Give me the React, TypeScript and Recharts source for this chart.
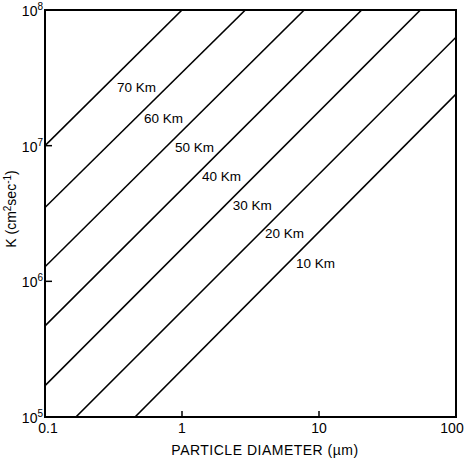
import { ComposedChart, Line, XAxis, YAxis, Scatter, ReferenceArea } from "recharts";

const FONT = "'Liberation Sans', Arial, sans-serif";

const diameterTicks = [0.1, 1, 10, 100];
const diameterLabels = ["0.1", "1", "10", "100"];
const kTicks = [1e5, 1e6, 1e7, 1e8];
const kExponents = ["5", "6", "7", "8"];

// each altitude line at its two ends (diameter µm, K cm²/s)
const line70 = [{ d: 0.1, k: 1.0e7 }, { d: 1.0, k: 1e8 }];
const line60 = [{ d: 0.1, k: 3.5e6 }, { d: 2.9, k: 1e8 }];
const line50 = [{ d: 0.1, k: 1.28e6 }, { d: 7.8, k: 1e8 }];
const line40 = [{ d: 0.1, k: 4.7e5 }, { d: 20.5, k: 1e8 }];
const line30 = [{ d: 0.1, k: 1.7e5 }, { d: 55, k: 1e8 }];
const line20 = [{ d: 0.168, k: 1e5 }, { d: 100, k: 6.3e7 }];
const line10 = [{ d: 0.454, k: 1e5 }, { d: 100, k: 2.4e7 }];

const altitudeLines = [line70, line60, line50, line40, line30, line20, line10];

// where each altitude name sits
const altitudeNames = ["70 Km", "60 Km", "50 Km", "40 Km", "30 Km", "20 Km", "10 Km"];
const nameD = [0.336, 0.528, 0.889, 1.4, 2.35, 4.04, 6.79];
const nameK = [2.71e7, 1.6e7, 9.8e6, 5.98e6, 3.66e6, 2.27e6, 1.37e6];

const nameSpots = altitudeNames.map((name, i) => ({ d: nameD[i], k: nameK[i], name }));

const XTick = (props: any) => {
  const { x, y, payload, index } = props;
  const inner = payload.value !== 0.1 && payload.value !== 100;
  const shift = index === 0 ? 3 : index === diameterTicks.length - 1 ? -4 : 0;
  return (
    <g>
      {inner && <line x1={x} x2={x} y1={y} y2={y - 6} stroke="#000" strokeWidth={1.5} />}
      <text x={x + shift} y={y + 16} textAnchor="middle" fontSize={14} fontFamily={FONT} fill="#000">
        {diameterLabels[diameterTicks.indexOf(payload.value)]}
      </text>
    </g>
  );
};

const YTick = (props: any) => {
  const { x, y, payload } = props;
  const inner = payload.value !== 1e5 && payload.value !== 1e8;
  const exp = kExponents[kTicks.indexOf(payload.value)];
  return (
    <g>
      {inner && <line x1={x} x2={x + 7} y1={y} y2={y} stroke="#000" strokeWidth={1.5} />}
      <text x={x - 2} y={y + 6} textAnchor="end" fontSize={14} fontFamily={FONT} fill="#000">
        10
        <tspan dy={-6} fontSize={10}>{exp}</tspan>
      </text>
    </g>
  );
};

const RightTick = (props: any) => {
  const { x, y, payload } = props;
  if (payload.value === 1e5 || payload.value === 1e8) return <g />;
  return <line x1={x} x2={x - 6} y1={y} y2={y} stroke="#000" strokeWidth={1.5} />;
};

const NameShape = (props: any) => {
  const { cx, cy, payload } = props;
  return (
    <text x={cx} y={cy + 5} fontSize={13.5} fontFamily={FONT} fill="#000">
      {payload.name}
    </text>
  );
};

const YTitle = () => (
  <text transform="translate(16, 209) rotate(-90)" textAnchor="middle" fontSize={14} fontFamily={FONT} fill="#000">
    K (cm
    <tspan dy={-5} fontSize={10}>2</tspan>
    <tspan dy={5}>sec</tspan>
    <tspan dy={-5} fontSize={10}>-1</tspan>
    <tspan dy={5}>)</tspan>
  </text>
);

const XTitle = () => (
  <text x={265} y={455} textAnchor="middle" fontSize={14} letterSpacing={0.5} fontFamily={FONT} fill="#000">
    PARTICLE DIAMETER (µm)
  </text>
);

export default function App() {
  return (
    <div style={{ position: "absolute", left: 0, top: 0 }}>
      <ComposedChart
        width={466}
        height={462}
        margin={{ top: 10, right: 10, bottom: 0, left: 0 }}
        style={{ background: "#fff" }}
      >
        <XAxis
          dataKey="d"
          type="number"
          scale="log"
          domain={[0.1, 100]}
          ticks={diameterTicks}
          allowDataOverflow
          height={45}
          tickSize={0}
          tickMargin={0}
          tickLine={false}
          axisLine={{ stroke: "#000", strokeWidth: 2 }}
          tick={<XTick />}
          interval={0}
          label={<XTitle />}
        />
        <YAxis
          dataKey="k"
          type="number"
          scale="log"
          domain={[1e5, 1e8]}
          ticks={kTicks}
          allowDataOverflow
          width={45}
          tickSize={0}
          tickMargin={0}
          tickLine={false}
          axisLine={{ stroke: "#000", strokeWidth: 2 }}
          tick={<YTick />}
          interval={0}
          label={<YTitle />}
        />
        <YAxis
          yAxisId="right"
          orientation="right"
          type="number"
          scale="log"
          domain={[1e5, 1e8]}
          ticks={kTicks}
          allowDataOverflow
          width={0}
          tickSize={0}
          tickMargin={0}
          tickLine={false}
          axisLine={false}
          tick={<RightTick />}
          interval={0}
        />
        <ReferenceArea
          x1={0.1}
          x2={100}
          y1={1e5}
          y2={1e8}
          fill="none"
          fillOpacity={0}
          stroke="#000"
          strokeWidth={2}
        />
        {altitudeLines.map((pts, i) => (
          <Line
            key={altitudeNames[i]}
            data={pts}
            dataKey="k"
            type="linear"
            stroke="#000"
            strokeWidth={1.6}
            dot={false}
            activeDot={false}
            isAnimationActive={false}
          />
        ))}
        <Scatter data={nameSpots} dataKey="k" shape={<NameShape />} isAnimationActive={false} />
      </ComposedChart>
    </div>
  );
}
